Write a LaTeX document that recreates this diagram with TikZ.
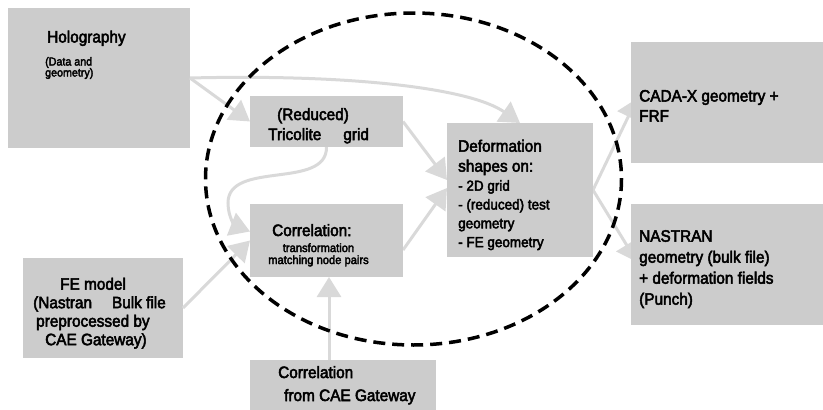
\documentclass[tikz,border=0pt]{standalone}
\usepackage{fontspec}
\setmainfont{Liberation Sans}[FakeStretch=0.93,FakeBold=3]
\usetikzlibrary{arrows.meta,calc}
\definecolor{boxgray}{HTML}{CCCCCC}
\definecolor{arrgray}{HTML}{D9D9D9}
\definecolor{ink}{HTML}{000000}
\tikzset{
  box/.style={fill=boxgray, draw=none, inner sep=0pt, outer sep=0pt, anchor=north west},
  txt/.style={inner sep=0pt, anchor=base west, align=left, text=ink, font=\fontsize{16.5}{20}\selectfont},
  conn/.style={draw=arrgray, line width=3pt, -{Triangle[length=20pt,width=24pt]}},
  ring/.style={draw=black, line width=3.5pt, dash pattern=on 12pt off 7pt},
}
\begin{document}
\begin{tikzpicture}[x=1pt,y=-1pt]
\useasboundingbox (0,0) rectangle (823,410);
% boxes
\node[box, minimum width=182pt, minimum height=140pt] (holo) at (8,8) {};
\node[box, minimum width=153pt, minimum height=51pt] (tric) at (250,96) {};
\node[box, minimum width=153pt, minimum height=73pt] (corr) at (250,204) {};
\node[box, minimum width=160pt, minimum height=100pt] (fe) at (23,258) {};
\node[box, minimum width=186pt, minimum height=50pt] (cae) at (250,360) {};
\node[box, minimum width=146pt, minimum height=134pt] (def) at (447,123) {};
% connectors
\draw[conn] (holo.east) -- (tric.west);
\draw[conn] (holo.east) .. controls (350,74) and (470,88) .. (def.north);
\draw[conn] (tric.east) -- ($(def.west)+(0,-10)$);
\draw[conn] ($(corr.south east)+(0,-27)$) -- ($(def.west)+(0,-2)$);
\draw[conn] (tric.south) .. controls (327,190) and (228,160) .. (228,203) .. controls (228,218) and (236,226) .. ($(corr.west)+(0,-9)$);
\draw[conn] (fe.east) -- (corr.west);
\draw[conn] ($(cae.north west)+(79,0)$) -- ($(corr.south west)+(79,0)$);
\coordinate (cadaTip) at (637,98.5);
\coordinate (nasTip) at (637,262);
\draw[conn] (def.east) -- (cadaTip);
\draw[conn] (def.east) -- (nasTip);
% dashed ring
\draw[ring] (413.5,179) ellipse [x radius=208, y radius=166];
% boxes on top
\node[box, minimum width=153pt, minimum height=51pt] (tric2) at (250,96) {};
\node[box, minimum width=153pt, minimum height=73pt] (corr2) at (250,204) {};
\node[box, minimum width=186pt, minimum height=50pt] (cae2) at (250,360) {};
\node[box, minimum width=146pt, minimum height=134pt] (def2) at (447,123) {};
\node[box, minimum width=192pt, minimum height=121pt] (cada) at (631,42) {};
\node[box, minimum width=192pt, minimum height=121pt] (nas) at (631,204) {};
% texts (base = baseline of last line)
\node[txt] (holoT) at (47,42.5) {Holography};
\node[txt, font=\fontsize{11.5}{11}\selectfont] (holoS) at (45,76.5) {(Data and\\geometry)};
\node[txt] (tricT) at (268,140) {\hspace*{9pt}(Reduced)\\Tricolite\hspace{22pt}grid};
\node[txt] (corrT) at (272,236) {Correlation:};
\node[txt, anchor=base, align=center, font=\fontsize{12}{12}\selectfont] (corrS) at (318.5,264) {transformation\\matching node pairs};
\node[txt, font=\fontsize{16.5}{18.5}\selectfont] (feT) at (33,345.2) {\hspace*{27pt}FE model\\(Nastran\hspace{20pt}Bulk file\\\hspace*{3pt}preprocessed by\\\hspace*{12pt}CAE Gateway)};
\node[txt, font=\fontsize{16.5}{23}\selectfont] (caeT) at (278,401) {Correlation\\\hspace*{6pt}from CAE Gateway};
\node[txt] (defT) at (458,171.7) {Deformation\\shapes on:};
\node[txt, font=\fontsize{14.5}{18.8}\selectfont] (defL) at (458,247.1) {- 2D grid\\- (reduced) test\\geometry\\- FE geometry};
\node[txt] (cadaT) at (639,121.5) {CADA-X geometry +\\FRF};
\node[txt, font=\fontsize{16.5}{21}\selectfont] (nasT) at (639,304.7) {NASTRAN\\geometry (bulk file)\\+ deformation fields\\(Punch)};
\end{tikzpicture}
\end{document}
